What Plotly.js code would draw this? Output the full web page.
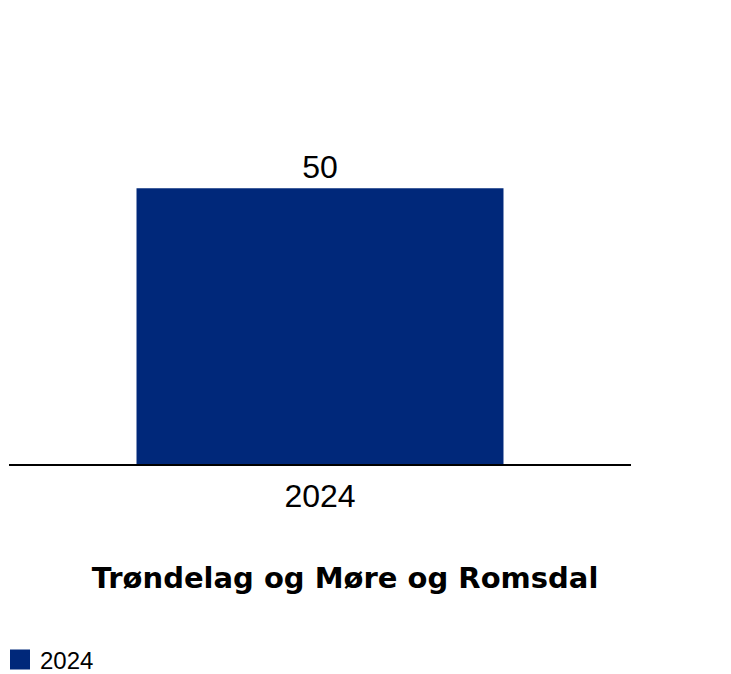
<!DOCTYPE html>
<html>
<head>
<meta charset="utf-8">
<script src="https://cdn.plot.ly/plotly-3.0.1.min.js"></script>
<style>html,body{margin:0;padding:0;background:#fff;}#chart{width:731px;height:674px;}</style>
</head>
<body>
<div id="chart"></div>
<script>
const categories = ["2024"];
const values = [50];
const seriesName = "2024";
const chartTitle = "Trøndelag og Møre og Romsdal";
const barColor = "#00287a";

const barTrace = {
  type: "bar",
  x: categories,
  y: values,
  name: seriesName,
  marker: {color: barColor},
  width: 0.59,
  text: values.map(String),
  textposition: "outside",
  cliponaxis: false,
  textfont: {family: "Liberation Sans, Arial, sans-serif", size: 32, color: "#000"},
  hoverinfo: "none",
  showlegend: false
};

// legend entry for the series (larger square swatch)
const legendTrace = {
  type: "scatter",
  mode: "markers",
  x: [null],
  y: [null],
  name: seriesName,
  marker: {symbol: "square", size: 16, color: barColor, line: {color: barColor, width: 4}},
  hoverinfo: "none",
  showlegend: true
};

const layout = {
  width: 731,
  height: 674,
  margin: {l: 9, r: 100, t: 133, b: 210},
  paper_bgcolor: "#fff",
  plot_bgcolor: "#fff",
  font: {family: "Liberation Sans, Arial, sans-serif", color: "#000"},
  title: {
    text: "<b>" + chartTitle + "</b>",
    font: {family: "DejaVu Sans, sans-serif", size: 29, color: "#000"},
    xref: "container", yref: "container",
    x: 0.472, xanchor: "center",
    y: 0.142, yanchor: "middle"
  },
  xaxis: {
    type: "category",
    showline: true, linecolor: "#000", linewidth: 2,
    showgrid: false, zeroline: false, ticks: "",
    tickfont: {size: 32, color: "#000"},
    ticklabelstandoff: 3,
    fixedrange: true
  },
  yaxis: {
    range: [0, 60], visible: false, showgrid: false, zeroline: false, fixedrange: true
  },
  showlegend: true,
  legend: {
    orientation: "h",
    xref: "container", yref: "container",
    x: 0, xanchor: "left",
    y: 0.021, yanchor: "middle",
    font: {size: 24, color: "#000"},
    bgcolor: "rgba(0,0,0,0)"
  }
};

Plotly.newPlot("chart", [barTrace, legendTrace], layout, {displayModeBar: false, staticPlot: true});
</script>
</body>
</html>
